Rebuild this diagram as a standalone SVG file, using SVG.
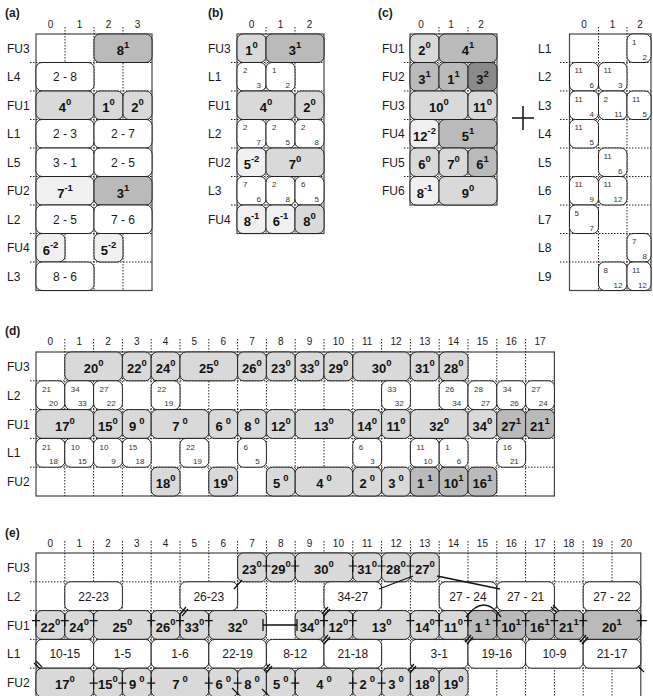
<svg xmlns="http://www.w3.org/2000/svg" width="653" height="696" viewBox="0 0 653 696">
<style>
text{font-family:"Liberation Sans",Arial,sans-serif;fill:#1a1a1a}
.pl{font-size:12px;font-weight:bold}
.rl{font-size:12px}
.cl{font-size:10px;text-anchor:middle;fill:#333}
.n{font-size:13px;font-weight:bold;text-anchor:middle;fill:#111}
.s{font-size:9.5px}
.t{font-size:12px;text-anchor:middle}
.sm{font-size:8px;fill:#333}
.sr{font-size:8px;fill:#333;text-anchor:end}
.c{stroke:#222;stroke-width:1}
.f0{fill:#f0f0f0}.f1{fill:#d9d9d9}.f2{fill:#bababa}.f3{fill:#8a8a8a}.fw{fill:#fff}
.grid{fill:#fff;stroke:#444;stroke-width:1.2}
.dot{stroke:#222;stroke-width:1;stroke-dasharray:1.5 1.5;fill:none}
.ln{stroke:#111;stroke-width:1.3;fill:none}
.tk{stroke:#111;stroke-width:1.2;fill:none}
</style>

<!-- ================= (a) ================= -->
<g id="panel-a">
<text class="pl" x="5" y="17">(a)</text>
<rect class="grid" x="36" y="34" width="116" height="256.5"/>
<g class="cl"><text x="50.5" y="28">0</text><text x="79.5" y="28">1</text><text x="108.5" y="28">2</text><text x="137.5" y="28">3</text></g>
<path class="dot" d="M65,27V290.5M94,27V290.5M123,27V290.5M30,62.5H152M30,91H152M30,119.5H152M30,148H152M30,176.5H152M30,205H152M30,233.5H152M30,262H152"/>
<g class="rl"><text x="7" y="52.7">FU3</text><text x="7" y="81.2">L4</text><text x="7" y="109.7">FU1</text><text x="7" y="138.2">L1</text><text x="7" y="166.7">L5</text><text x="7" y="195.2">FU2</text><text x="7" y="223.7">L2</text><text x="7" y="252.2">FU4</text><text x="7" y="280.7">L3</text></g>
<g id="a_fu3_8"><rect class="c f2" x="94" y="34" width="58" height="28.5" rx="6"/><text class="n" x="123" y="55">8<tspan class="s" dy="-7">1</tspan></text></g>
<g id="a_l4_28"><rect class="c fw" x="36" y="62.5" width="58" height="28.5" rx="6"/><text class="t" x="65" y="81">2 - 8</text></g>
<g id="a_fu1_4"><rect class="c f1" x="36" y="91" width="58" height="28.5" rx="6"/><text class="n" x="65" y="112">4<tspan class="s" dy="-7">0</tspan></text></g>
<g id="a_fu1_1"><rect class="c f1" x="94" y="91" width="29" height="28.5" rx="6"/><text class="n" x="108.5" y="112">1<tspan class="s" dy="-7">0</tspan></text></g>
<g id="a_fu1_2"><rect class="c f1" x="123" y="91" width="29" height="28.5" rx="6"/><text class="n" x="137.5" y="112">2<tspan class="s" dy="-7">0</tspan></text></g>
<g id="a_l1_23"><rect class="c fw" x="36" y="119.5" width="58" height="28.5" rx="6"/><text class="t" x="65" y="138">2 - 3</text></g>
<g id="a_l1_27"><rect class="c fw" x="94" y="119.5" width="58" height="28.5" rx="6"/><text class="t" x="123" y="138">2 - 7</text></g>
<g id="a_l5_31"><rect class="c fw" x="36" y="148" width="58" height="28.5" rx="6"/><text class="t" x="65" y="166.5">3 - 1</text></g>
<g id="a_l5_25"><rect class="c fw" x="94" y="148" width="58" height="28.5" rx="6"/><text class="t" x="123" y="166.5">2 - 5</text></g>
<g id="a_fu2_7"><rect class="c f0" x="36" y="176.5" width="58" height="28.5" rx="6"/><text class="n" x="65" y="197.5">7<tspan class="s" dy="-7">-1</tspan></text></g>
<g id="a_fu2_3"><rect class="c f2" x="94" y="176.5" width="58" height="28.5" rx="6"/><text class="n" x="123" y="197.5">3<tspan class="s" dy="-7">1</tspan></text></g>
<g id="a_l2_25"><rect class="c fw" x="36" y="205" width="58" height="28.5" rx="6"/><text class="t" x="65" y="223.5">2 - 5</text></g>
<g id="a_l2_76"><rect class="c fw" x="94" y="205" width="58" height="28.5" rx="6"/><text class="t" x="123" y="223.5">7 - 6</text></g>
<g id="a_fu4_6"><rect class="c f0" x="36" y="233.5" width="29" height="28.5" rx="6"/><text class="n" x="50.5" y="254.5">6<tspan class="s" dy="-7">-2</tspan></text></g>
<g id="a_fu4_5"><rect class="c f0" x="94" y="233.5" width="29" height="28.5" rx="6"/><text class="n" x="108.5" y="254.5">5<tspan class="s" dy="-7">-2</tspan></text></g>
<g id="a_l3_86"><rect class="c fw" x="36" y="262" width="58" height="28.5" rx="6"/><text class="t" x="65" y="280.5">8 - 6</text></g>
</g>

<!-- ================= (b) ================= -->
<g id="panel-b">
<text class="pl" x="208" y="17">(b)</text>
<rect class="grid" x="237" y="34" width="87" height="199.5"/>
<g class="cl"><text x="251.5" y="28">0</text><text x="280.5" y="28">1</text><text x="309.5" y="28">2</text></g>
<path class="dot" d="M266,27V233.5M295,27V233.5M231,62.5H324M231,91H324M231,119.5H324M231,148H324M231,176.5H324M231,205H324"/>
<g class="rl"><text x="208" y="52.7">FU3</text><text x="208" y="81.2">L1</text><text x="208" y="109.7">FU1</text><text x="208" y="138.2">L2</text><text x="208" y="166.7">FU2</text><text x="208" y="195.2">L3</text><text x="208" y="223.7">FU4</text></g>
<g id="b_fu3_1"><rect class="c f1" x="237" y="34" width="29" height="28.5" rx="6"/><text class="n" x="251.5" y="55">1<tspan class="s" dy="-7">0</tspan></text></g>
<g id="b_fu3_3"><rect class="c f2" x="266" y="34" width="58" height="28.5" rx="6"/><text class="n" x="295" y="55">3<tspan class="s" dy="-7">1</tspan></text></g>
<g id="b_l1_0"><rect class="c fw" x="237" y="62.5" width="29" height="28.5" rx="6"/><text class="sm" x="243" y="73">2</text><text class="sr" x="261" y="88">3</text></g>
<g id="b_l1_1"><rect class="c fw" x="266" y="62.5" width="29" height="28.5" rx="6"/><text class="sm" x="272" y="73">1</text><text class="sr" x="290" y="88">2</text></g>
<g id="b_fu1_4"><rect class="c f1" x="237" y="91" width="58" height="28.5" rx="6"/><text class="n" x="266" y="112">4<tspan class="s" dy="-7">0</tspan></text></g>
<g id="b_fu1_2"><rect class="c f1" x="295" y="91" width="29" height="28.5" rx="6"/><text class="n" x="309.5" y="112">2<tspan class="s" dy="-7">0</tspan></text></g>
<g id="b_l2_0"><rect class="c fw" x="237" y="119.5" width="29" height="28.5" rx="6"/><text class="sm" x="243" y="130">2</text><text class="sr" x="261" y="145">7</text></g>
<g id="b_l2_1"><rect class="c fw" x="266" y="119.5" width="29" height="28.5" rx="6"/><text class="sm" x="272" y="130">2</text><text class="sr" x="290" y="145">5</text></g>
<g id="b_l2_2"><rect class="c fw" x="295" y="119.5" width="29" height="28.5" rx="6"/><text class="sm" x="301" y="130">2</text><text class="sr" x="319" y="145">8</text></g>
<g id="b_fu2_5"><rect class="c f0" x="237" y="148" width="29" height="28.5" rx="6"/><text class="n" x="251.5" y="169">5<tspan class="s" dy="-7">-2</tspan></text></g>
<g id="b_fu2_7"><rect class="c f1" x="266" y="148" width="58" height="28.5" rx="6"/><text class="n" x="295" y="169">7<tspan class="s" dy="-7">0</tspan></text></g>
<g id="b_l3_0"><rect class="c fw" x="237" y="176.5" width="29" height="28.5" rx="6"/><text class="sm" x="243" y="187">7</text><text class="sr" x="261" y="202">6</text></g>
<g id="b_l3_1"><rect class="c fw" x="266" y="176.5" width="29" height="28.5" rx="6"/><text class="sm" x="272" y="187">2</text><text class="sr" x="290" y="202">8</text></g>
<g id="b_l3_2"><rect class="c fw" x="295" y="176.5" width="29" height="28.5" rx="6"/><text class="sm" x="301" y="187">6</text><text class="sr" x="319" y="202">5</text></g>
<g id="b_fu4_8a"><rect class="c f0" x="237" y="205" width="29" height="28.5" rx="6"/><text class="n" x="251.5" y="226">8<tspan class="s" dy="-7">-1</tspan></text></g>
<g id="b_fu4_6"><rect class="c f0" x="266" y="205" width="29" height="28.5" rx="6"/><text class="n" x="280.5" y="226">6<tspan class="s" dy="-7">-1</tspan></text></g>
<g id="b_fu4_8b"><rect class="c f1" x="295" y="205" width="29" height="28.5" rx="6"/><text class="n" x="309.5" y="226">8<tspan class="s" dy="-7">0</tspan></text></g>
</g>

<!-- ================= (c) ================= -->
<g id="panel-c">
<text class="pl" x="378" y="17">(c)</text>
<rect class="grid" x="410" y="34" width="87" height="171"/>
<g class="cl"><text x="421" y="28">0</text><text x="451" y="28">1</text><text x="481" y="28">2</text></g>
<path class="dot" d="M439,27V205M468,27V205M404,62.5H497M404,91H497M404,119.5H497M404,148H497M404,176.5H497"/>
<g class="rl"><text x="382" y="52.7">FU1</text><text x="382" y="81.2">FU2</text><text x="382" y="109.7">FU3</text><text x="382" y="138.2">FU4</text><text x="382" y="166.7">FU5</text><text x="382" y="195.2">FU6</text></g>
<g id="c_fu1_2"><rect class="c f1" x="410" y="34" width="29" height="28.5" rx="6"/><text class="n" x="424.5" y="55">2<tspan class="s" dy="-7">0</tspan></text></g>
<g id="c_fu1_4"><rect class="c f2" x="439" y="34" width="58" height="28.5" rx="6"/><text class="n" x="468" y="55">4<tspan class="s" dy="-7">1</tspan></text></g>
<g id="c_fu2_3a"><rect class="c f2" x="410" y="62.5" width="29" height="28.5" rx="6"/><text class="n" x="424.5" y="83.5">3<tspan class="s" dy="-7">1</tspan></text></g>
<g id="c_fu2_1"><rect class="c f2" x="439" y="62.5" width="29" height="28.5" rx="6"/><text class="n" x="453.5" y="83.5">1<tspan class="s" dy="-7">1</tspan></text></g>
<g id="c_fu2_3b"><rect class="c f3" x="468" y="62.5" width="29" height="28.5" rx="6"/><text class="n" x="482.5" y="83.5">3<tspan class="s" dy="-7">2</tspan></text></g>
<g id="c_fu3_10"><rect class="c f1" x="410" y="91" width="58" height="28.5" rx="6"/><text class="n" x="439" y="112">10<tspan class="s" dy="-7">0</tspan></text></g>
<g id="c_fu3_11"><rect class="c f1" x="468" y="91" width="29" height="28.5" rx="6"/><text class="n" x="482.5" y="112">11<tspan class="s" dy="-7">0</tspan></text></g>
<g id="c_fu4_12"><rect class="c f0" x="410" y="119.5" width="29" height="28.5" rx="6"/><text class="n" x="424.5" y="140.5">12<tspan class="s" dy="-7">-2</tspan></text></g>
<g id="c_fu4_5"><rect class="c f2" x="439" y="119.5" width="58" height="28.5" rx="6"/><text class="n" x="468" y="140.5">5<tspan class="s" dy="-7">1</tspan></text></g>
<g id="c_fu5_6a"><rect class="c f1" x="410" y="148" width="29" height="28.5" rx="6"/><text class="n" x="424.5" y="169">6<tspan class="s" dy="-7">0</tspan></text></g>
<g id="c_fu5_7"><rect class="c f1" x="439" y="148" width="29" height="28.5" rx="6"/><text class="n" x="453.5" y="169">7<tspan class="s" dy="-7">0</tspan></text></g>
<g id="c_fu5_6b"><rect class="c f2" x="468" y="148" width="29" height="28.5" rx="6"/><text class="n" x="482.5" y="169">6<tspan class="s" dy="-7">1</tspan></text></g>
<g id="c_fu6_8"><rect class="c f0" x="410" y="176.5" width="29" height="28.5" rx="6"/><text class="n" x="424.5" y="197.5">8<tspan class="s" dy="-7">-1</tspan></text></g>
<g id="c_fu6_9"><rect class="c f1" x="439" y="176.5" width="58" height="28.5" rx="6"/><text class="n" x="468" y="197.5">9<tspan class="s" dy="-7">0</tspan></text></g>
<path id="plus" d="M512,118H534M523,106V130" stroke="#111" stroke-width="1.5" fill="none"/>
</g>

<!-- ============ (c) right table ============ -->
<g id="panel-c2">
<rect class="grid" x="569.5" y="34" width="81.5" height="256.5"/>
<g class="cl"><text x="584" y="28">0</text><text x="612.5" y="28">1</text><text x="640" y="28">2</text></g>
<path class="dot" d="M598.5,27V290.5M627,27V290.5M560,62.5H651M560,91H651M560,119.5H651M560,148H651M560,176.5H651M560,205H651M560,233.5H651M560,262H651"/>
<g class="rl"><text x="538" y="52.7">L1</text><text x="538" y="81.2">L2</text><text x="538" y="109.7">L3</text><text x="538" y="138.2">L4</text><text x="538" y="166.7">L5</text><text x="538" y="195.2">L6</text><text x="538" y="223.7">L7</text><text x="538" y="252.2">L8</text><text x="538" y="280.7">L9</text></g>
<g id="r_l1_2"><rect class="c fw" x="627" y="34" width="24" height="28.5" rx="6"/><text class="sm" x="632" y="44.5">1</text><text class="sr" x="647" y="59.5">2</text></g>
<g id="r_l2_0"><rect class="c fw" x="569.5" y="62.5" width="29" height="28.5" rx="6"/><text class="sm" x="574.5" y="73">11</text><text class="sr" x="594" y="88">6</text></g>
<g id="r_l2_1"><rect class="c fw" x="598.5" y="62.5" width="28.5" height="28.5" rx="6"/><text class="sm" x="603.5" y="73">11</text><text class="sr" x="622.5" y="88">3</text></g>
<g id="r_l3_0"><rect class="c fw" x="569.5" y="91" width="29" height="28.5" rx="6"/><text class="sm" x="574.5" y="101.5">11</text><text class="sr" x="594" y="116.5">4</text></g>
<g id="r_l3_1"><rect class="c fw" x="598.5" y="91" width="28.5" height="28.5" rx="6"/><text class="sm" x="603.5" y="101.5">2</text><text class="sr" x="622.5" y="116.5">11</text></g>
<g id="r_l3_2"><rect class="c fw" x="627" y="91" width="24" height="28.5" rx="6"/><text class="sm" x="632" y="101.5">11</text><text class="sr" x="647" y="116.5">5</text></g>
<g id="r_l4_0"><rect class="c fw" x="569.5" y="119.5" width="29" height="28.5" rx="6"/><text class="sm" x="574.5" y="130">11</text><text class="sr" x="594" y="145">5</text></g>
<g id="r_l5_1"><rect class="c fw" x="598.5" y="148" width="28.5" height="28.5" rx="6"/><text class="sm" x="603.5" y="158.5">11</text><text class="sr" x="622.5" y="173.5">6</text></g>
<g id="r_l6_0"><rect class="c fw" x="569.5" y="176.5" width="29" height="28.5" rx="6"/><text class="sm" x="574.5" y="187">11</text><text class="sr" x="594" y="202">9</text></g>
<g id="r_l6_1"><rect class="c fw" x="598.5" y="176.5" width="28.5" height="28.5" rx="6"/><text class="sm" x="603.5" y="187">11</text><text class="sr" x="622.5" y="202">12</text></g>
<g id="r_l7_0"><rect class="c fw" x="569.5" y="205" width="29" height="28.5" rx="6"/><text class="sm" x="574.5" y="215.5">5</text><text class="sr" x="594" y="230.5">7</text></g>
<g id="r_l8_2"><rect class="c fw" x="627" y="233.5" width="24" height="28.5" rx="6"/><text class="sm" x="632" y="244">7</text><text class="sr" x="647" y="259">8</text></g>
<g id="r_l9_1"><rect class="c fw" x="598.5" y="262" width="28.5" height="28.5" rx="6"/><text class="sm" x="603.5" y="272.5">8</text><text class="sr" x="622.5" y="287.5">12</text></g>
<g id="r_l9_2"><rect class="c fw" x="627" y="262" width="24" height="28.5" rx="6"/><text class="sm" x="632" y="272.5">11</text><text class="sr" x="647" y="287.5">12</text></g>
</g>

<!-- ================= (d) ================= -->
<g id="panel-d">
<text class="pl" x="5" y="335">(d)</text>
<rect class="grid" x="36" y="352" width="518.4" height="144"/>
<g class="cl"><text x="50.4" y="345">0</text><text x="79.2" y="345">1</text><text x="108" y="345">2</text><text x="136.8" y="345">3</text><text x="165.6" y="345">4</text><text x="194.4" y="345">5</text><text x="223.2" y="345">6</text><text x="252" y="345">7</text><text x="280.8" y="345">8</text><text x="309.6" y="345">9</text><text x="338.4" y="345">10</text><text x="367.2" y="345">11</text><text x="396" y="345">12</text><text x="424.8" y="345">13</text><text x="453.6" y="345">14</text><text x="482.4" y="345">15</text><text x="511.2" y="345">16</text><text x="540" y="345">17</text></g>
<path class="dot" d="M64.8,339V496M93.6,339V496M122.4,339V496M151.2,339V496M180,339V496M208.8,339V496M237.6,339V496M266.4,339V496M295.2,339V496M324,339V496M352.8,339V496M381.6,339V496M410.4,339V496M439.2,339V496M468,339V496M496.8,339V496M525.6,339V496M30,380.8H554.4M30,409.6H554.4M30,438.4H554.4M30,467.2H554.4"/>
<g class="rl"><text x="7" y="370.9">FU3</text><text x="7" y="399.7">L2</text><text x="7" y="428.5">FU1</text><text x="7" y="457.3">L1</text><text x="7" y="486.1">FU2</text></g>
<!-- FU3 -->
<g id="d_fu3_20"><rect class="c f1" x="64.8" y="352" width="57.6" height="28.8" rx="6"/><text class="n" x="93.6" y="373">20<tspan class="s" dy="-7">0</tspan></text></g>
<g id="d_fu3_22"><rect class="c f1" x="122.4" y="352" width="28.8" height="28.8" rx="6"/><text class="n" x="136.8" y="373">22<tspan class="s" dy="-7">0</tspan></text></g>
<g id="d_fu3_24"><rect class="c f1" x="151.2" y="352" width="28.8" height="28.8" rx="6"/><text class="n" x="165.6" y="373">24<tspan class="s" dy="-7">0</tspan></text></g>
<g id="d_fu3_25"><rect class="c f1" x="180" y="352" width="57.6" height="28.8" rx="6"/><text class="n" x="208.8" y="373">25<tspan class="s" dy="-7">0</tspan></text></g>
<g id="d_fu3_26"><rect class="c f1" x="237.6" y="352" width="28.8" height="28.8" rx="6"/><text class="n" x="252" y="373">26<tspan class="s" dy="-7">0</tspan></text></g>
<g id="d_fu3_23"><rect class="c f1" x="266.4" y="352" width="28.8" height="28.8" rx="6"/><text class="n" x="280.8" y="373">23<tspan class="s" dy="-7">0</tspan></text></g>
<g id="d_fu3_33"><rect class="c f1" x="295.2" y="352" width="28.8" height="28.8" rx="6"/><text class="n" x="309.6" y="373">33<tspan class="s" dy="-7">0</tspan></text></g>
<g id="d_fu3_29"><rect class="c f1" x="324" y="352" width="28.8" height="28.8" rx="6"/><text class="n" x="338.4" y="373">29<tspan class="s" dy="-7">0</tspan></text></g>
<g id="d_fu3_30"><rect class="c f1" x="352.8" y="352" width="57.6" height="28.8" rx="6"/><text class="n" x="381.6" y="373">30<tspan class="s" dy="-7">0</tspan></text></g>
<g id="d_fu3_31"><rect class="c f1" x="410.4" y="352" width="28.8" height="28.8" rx="6"/><text class="n" x="424.8" y="373">31<tspan class="s" dy="-7">0</tspan></text></g>
<g id="d_fu3_28"><rect class="c f1" x="439.2" y="352" width="28.8" height="28.8" rx="6"/><text class="n" x="453.6" y="373">28<tspan class="s" dy="-7">0</tspan></text></g>
<!-- L2 -->
<g id="d_l2_0"><rect class="c fw" x="36" y="380.8" width="28.8" height="28.8" rx="6"/><text class="sm" x="42" y="392.3">21</text><text class="sr" x="58" y="406.3">20</text></g>
<g id="d_l2_1"><rect class="c fw" x="64.8" y="380.8" width="28.8" height="28.8" rx="6"/><text class="sm" x="70.8" y="392.3">34</text><text class="sr" x="86.8" y="406.3">33</text></g>
<g id="d_l2_2"><rect class="c fw" x="93.6" y="380.8" width="28.8" height="28.8" rx="6"/><text class="sm" x="99.6" y="392.3">27</text><text class="sr" x="115.6" y="406.3">22</text></g>
<g id="d_l2_4"><rect class="c fw" x="151.2" y="380.8" width="28.8" height="28.8" rx="6"/><text class="sm" x="157.2" y="392.3">22</text><text class="sr" x="173.2" y="406.3">19</text></g>
<g id="d_l2_12"><rect class="c fw" x="381.6" y="380.8" width="28.8" height="28.8" rx="6"/><text class="sm" x="387.6" y="392.3">33</text><text class="sr" x="403.6" y="406.3">32</text></g>
<g id="d_l2_14"><rect class="c fw" x="439.2" y="380.8" width="28.8" height="28.8" rx="6"/><text class="sm" x="445.2" y="392.3">26</text><text class="sr" x="461.2" y="406.3">34</text></g>
<g id="d_l2_15"><rect class="c fw" x="468" y="380.8" width="28.8" height="28.8" rx="6"/><text class="sm" x="474" y="392.3">28</text><text class="sr" x="490" y="406.3">27</text></g>
<g id="d_l2_16"><rect class="c fw" x="496.8" y="380.8" width="28.8" height="28.8" rx="6"/><text class="sm" x="502.8" y="392.3">34</text><text class="sr" x="518.8" y="406.3">26</text></g>
<g id="d_l2_17"><rect class="c fw" x="525.6" y="380.8" width="28.8" height="28.8" rx="6"/><text class="sm" x="531.6" y="392.3">27</text><text class="sr" x="547.6" y="406.3">24</text></g>
<!-- FU1 -->
<g id="d_fu1_17"><rect class="c f1" x="36" y="409.6" width="57.6" height="28.8" rx="6"/><text class="n" x="64.8" y="430.6">17<tspan class="s" dy="-7">0</tspan></text></g>
<g id="d_fu1_15"><rect class="c f1" x="93.6" y="409.6" width="28.8" height="28.8" rx="6"/><text class="n" x="108" y="430.6">15<tspan class="s" dy="-7">0</tspan></text></g>
<g id="d_fu1_9"><rect class="c f1" x="122.4" y="409.6" width="28.8" height="28.8" rx="6"/><text class="n" x="136.8" y="430.6">9<tspan class="s" dx="3" dy="-7">0</tspan></text></g>
<g id="d_fu1_7"><rect class="c f1" x="151.2" y="409.6" width="57.6" height="28.8" rx="6"/><text class="n" x="180" y="430.6">7<tspan class="s" dx="3" dy="-7">0</tspan></text></g>
<g id="d_fu1_6"><rect class="c f1" x="208.8" y="409.6" width="28.8" height="28.8" rx="6"/><text class="n" x="223.2" y="430.6">6<tspan class="s" dx="3" dy="-7">0</tspan></text></g>
<g id="d_fu1_8"><rect class="c f1" x="237.6" y="409.6" width="28.8" height="28.8" rx="6"/><text class="n" x="252" y="430.6">8<tspan class="s" dx="3" dy="-7">0</tspan></text></g>
<g id="d_fu1_12"><rect class="c f1" x="266.4" y="409.6" width="28.8" height="28.8" rx="6"/><text class="n" x="280.8" y="430.6">12<tspan class="s" dy="-7">0</tspan></text></g>
<g id="d_fu1_13"><rect class="c f1" x="295.2" y="409.6" width="57.6" height="28.8" rx="6"/><text class="n" x="324" y="430.6">13<tspan class="s" dy="-7">0</tspan></text></g>
<g id="d_fu1_14"><rect class="c f1" x="352.8" y="409.6" width="28.8" height="28.8" rx="6"/><text class="n" x="367.2" y="430.6">14<tspan class="s" dy="-7">0</tspan></text></g>
<g id="d_fu1_11"><rect class="c f1" x="381.6" y="409.6" width="28.8" height="28.8" rx="6"/><text class="n" x="396" y="430.6">11<tspan class="s" dy="-7">0</tspan></text></g>
<g id="d_fu1_32"><rect class="c f1" x="410.4" y="409.6" width="57.6" height="28.8" rx="6"/><text class="n" x="439.2" y="430.6">32<tspan class="s" dy="-7">0</tspan></text></g>
<g id="d_fu1_34"><rect class="c f1" x="468" y="409.6" width="28.8" height="28.8" rx="6"/><text class="n" x="482.4" y="430.6">34<tspan class="s" dy="-7">0</tspan></text></g>
<g id="d_fu1_27"><rect class="c f2" x="496.8" y="409.6" width="28.8" height="28.8" rx="6"/><text class="n" x="511.2" y="430.6">27<tspan class="s" dy="-7">1</tspan></text></g>
<g id="d_fu1_21"><rect class="c f2" x="525.6" y="409.6" width="28.8" height="28.8" rx="6"/><text class="n" x="540" y="430.6">21<tspan class="s" dy="-7">1</tspan></text></g>
<!-- L1 -->
<g id="d_l1_0"><rect class="c fw" x="36" y="438.4" width="28.8" height="28.8" rx="6"/><text class="sm" x="42" y="449.9">21</text><text class="sr" x="58" y="463.9">18</text></g>
<g id="d_l1_1"><rect class="c fw" x="64.8" y="438.4" width="28.8" height="28.8" rx="6"/><text class="sm" x="70.8" y="449.9">10</text><text class="sr" x="86.8" y="463.9">15</text></g>
<g id="d_l1_2"><rect class="c fw" x="93.6" y="438.4" width="28.8" height="28.8" rx="6"/><text class="sm" x="99.6" y="449.9">10</text><text class="sr" x="115.6" y="463.9">9</text></g>
<g id="d_l1_3"><rect class="c fw" x="122.4" y="438.4" width="28.8" height="28.8" rx="6"/><text class="sm" x="128.4" y="449.9">15</text><text class="sr" x="144.4" y="463.9">18</text></g>
<g id="d_l1_5"><rect class="c fw" x="180" y="438.4" width="28.8" height="28.8" rx="6"/><text class="sm" x="186" y="449.9">22</text><text class="sr" x="202" y="463.9">19</text></g>
<g id="d_l1_7"><rect class="c fw" x="237.6" y="438.4" width="28.8" height="28.8" rx="6"/><text class="sm" x="243.6" y="449.9">6</text><text class="sr" x="259.6" y="463.9">5</text></g>
<g id="d_l1_11"><rect class="c fw" x="352.8" y="438.4" width="28.8" height="28.8" rx="6"/><text class="sm" x="358.8" y="449.9">6</text><text class="sr" x="374.8" y="463.9">3</text></g>
<g id="d_l1_13"><rect class="c fw" x="410.4" y="438.4" width="28.8" height="28.8" rx="6"/><text class="sm" x="416.4" y="449.9">11</text><text class="sr" x="432.4" y="463.9">10</text></g>
<g id="d_l1_14"><rect class="c fw" x="439.2" y="438.4" width="28.8" height="28.8" rx="6"/><text class="sm" x="445.2" y="449.9">1</text><text class="sr" x="461.2" y="463.9">6</text></g>
<g id="d_l1_16"><rect class="c fw" x="496.8" y="438.4" width="28.8" height="28.8" rx="6"/><text class="sm" x="502.8" y="449.9">16</text><text class="sr" x="518.8" y="463.9">21</text></g>
<!-- FU2 -->
<g id="d_fu2_18"><rect class="c f1" x="151.2" y="467.2" width="28.8" height="28.8" rx="6"/><text class="n" x="165.6" y="488.2">18<tspan class="s" dy="-7">0</tspan></text></g>
<g id="d_fu2_19"><rect class="c f1" x="208.8" y="467.2" width="28.8" height="28.8" rx="6"/><text class="n" x="223.2" y="488.2">19<tspan class="s" dy="-7">0</tspan></text></g>
<g id="d_fu2_5"><rect class="c f1" x="266.4" y="467.2" width="28.8" height="28.8" rx="6"/><text class="n" x="280.8" y="488.2">5<tspan class="s" dx="3" dy="-7">0</tspan></text></g>
<g id="d_fu2_4"><rect class="c f1" x="295.2" y="467.2" width="57.6" height="28.8" rx="6"/><text class="n" x="324" y="488.2">4<tspan class="s" dx="3" dy="-7">0</tspan></text></g>
<g id="d_fu2_2"><rect class="c f1" x="352.8" y="467.2" width="28.8" height="28.8" rx="6"/><text class="n" x="367.2" y="488.2">2<tspan class="s" dx="3" dy="-7">0</tspan></text></g>
<g id="d_fu2_3"><rect class="c f1" x="381.6" y="467.2" width="28.8" height="28.8" rx="6"/><text class="n" x="396" y="488.2">3<tspan class="s" dx="3" dy="-7">0</tspan></text></g>
<g id="d_fu2_1"><rect class="c f2" x="410.4" y="467.2" width="28.8" height="28.8" rx="6"/><text class="n" x="424.8" y="488.2">1<tspan class="s" dx="3" dy="-7">1</tspan></text></g>
<g id="d_fu2_10"><rect class="c f2" x="439.2" y="467.2" width="28.8" height="28.8" rx="6"/><text class="n" x="453.6" y="488.2">10<tspan class="s" dy="-7">1</tspan></text></g>
<g id="d_fu2_16"><rect class="c f2" x="468" y="467.2" width="28.8" height="28.8" rx="6"/><text class="n" x="482.4" y="488.2">16<tspan class="s" dy="-7">1</tspan></text></g>
</g>

<!-- ================= (e) ================= -->
<g id="panel-e">
<text class="pl" x="5" y="537">(e)</text>
<rect class="grid" x="36" y="553" width="604.8" height="150"/>
<g class="cl"><text x="50.4" y="547">0</text><text x="79.2" y="547">1</text><text x="108" y="547">2</text><text x="136.8" y="547">3</text><text x="165.6" y="547">4</text><text x="194.4" y="547">5</text><text x="223.2" y="547">6</text><text x="252" y="547">7</text><text x="280.8" y="547">8</text><text x="309.6" y="547">9</text><text x="338.4" y="547">10</text><text x="367.2" y="547">11</text><text x="396" y="547">12</text><text x="424.8" y="547">13</text><text x="453.6" y="547">14</text><text x="482.4" y="547">15</text><text x="511.2" y="547">16</text><text x="540" y="547">17</text><text x="568.8" y="547">18</text><text x="597.6" y="547">19</text><text x="626.4" y="547">20</text></g>
<path class="dot" d="M64.8,541V697M93.6,541V697M122.4,541V697M151.2,541V697M180,541V697M208.8,541V697M237.6,541V697M266.4,541V697M295.2,541V697M324,541V697M352.8,541V697M381.6,541V697M410.4,541V697M439.2,541V697M468,541V697M496.8,541V697M525.6,541V697M554.4,541V697M583.2,541V697M612,541V697M30,581.8H640.8M30,610.6H640.8M30,639.4H640.8M30,668.2H640.8"/>
<g class="rl"><text x="7" y="571.9">FU3</text><text x="7" y="600.7">L2</text><text x="7" y="629.5">FU1</text><text x="7" y="658.3">L1</text><text x="7" y="687.1">FU2</text></g>
<!-- FU3 -->
<g id="e_fu3_23"><rect class="c f1" x="237.6" y="553" width="28.8" height="28.8" rx="6"/><text class="n" x="252" y="574">23<tspan class="s" dy="-7">0</tspan></text></g>
<g id="e_fu3_29"><rect class="c f1" x="266.4" y="553" width="28.8" height="28.8" rx="6"/><text class="n" x="280.8" y="574">29<tspan class="s" dy="-7">0</tspan></text></g>
<g id="e_fu3_30"><rect class="c f1" x="295.2" y="553" width="57.6" height="28.8" rx="6"/><text class="n" x="324" y="574">30<tspan class="s" dy="-7">0</tspan></text></g>
<g id="e_fu3_31"><rect class="c f1" x="352.8" y="553" width="28.8" height="28.8" rx="6"/><text class="n" x="367.2" y="574">31<tspan class="s" dy="-7">0</tspan></text></g>
<g id="e_fu3_28"><rect class="c f1" x="381.6" y="553" width="28.8" height="28.8" rx="6"/><text class="n" x="396" y="574">28<tspan class="s" dy="-7">0</tspan></text></g>
<g id="e_fu3_27"><rect class="c f1" x="410.4" y="553" width="28.8" height="28.8" rx="6"/><text class="n" x="424.8" y="574">27<tspan class="s" dy="-7">0</tspan></text></g>
<!-- L2 -->
<g id="e_l2_2223"><rect class="c fw" x="64.8" y="581.8" width="57.6" height="28.8" rx="6"/><text class="t" x="93.6" y="600.5">22-23</text></g>
<g id="e_l2_2623"><rect class="c fw" x="180" y="581.8" width="57.6" height="28.8" rx="6"/><text class="t" x="208.8" y="600.5">26-23</text></g>
<g id="e_l2_3427"><rect class="c fw" x="324" y="581.8" width="57.6" height="28.8" rx="6"/><text class="t" x="352.8" y="600.5">34-27</text></g>
<g id="e_l2_2724"><rect class="c fw" x="439.2" y="581.8" width="57.6" height="28.8" rx="6"/><text class="t" x="468" y="600.5">27 - 24</text></g>
<g id="e_l2_2721"><rect class="c fw" x="496.8" y="581.8" width="57.6" height="28.8" rx="6"/><text class="t" x="525.6" y="600.5">27 - 21</text></g>
<g id="e_l2_2722"><rect class="c fw" x="583.2" y="581.8" width="57.6" height="28.8" rx="6"/><text class="t" x="612" y="600.5">27 - 22</text></g>
<!-- FU1 -->
<g id="e_fu1_22"><rect class="c f1" x="36" y="610.6" width="28.8" height="28.8" rx="6"/><text class="n" x="50.4" y="631.6">22<tspan class="s" dy="-7">0</tspan></text></g>
<g id="e_fu1_24"><rect class="c f1" x="64.8" y="610.6" width="28.8" height="28.8" rx="6"/><text class="n" x="79.2" y="631.6">24<tspan class="s" dy="-7">0</tspan></text></g>
<g id="e_fu1_25"><rect class="c f1" x="93.6" y="610.6" width="57.6" height="28.8" rx="6"/><text class="n" x="122.4" y="631.6">25<tspan class="s" dy="-7">0</tspan></text></g>
<g id="e_fu1_26"><rect class="c f1" x="151.2" y="610.6" width="28.8" height="28.8" rx="6"/><text class="n" x="165.6" y="631.6">26<tspan class="s" dy="-7">0</tspan></text></g>
<g id="e_fu1_33"><rect class="c f1" x="180" y="610.6" width="28.8" height="28.8" rx="6"/><text class="n" x="194.4" y="631.6">33<tspan class="s" dy="-7">0</tspan></text></g>
<g id="e_fu1_32"><rect class="c f1" x="208.8" y="610.6" width="57.6" height="28.8" rx="6"/><text class="n" x="237.6" y="631.6">32<tspan class="s" dy="-7">0</tspan></text></g>
<g id="e_fu1_34"><rect class="c f1" x="295.2" y="610.6" width="28.8" height="28.8" rx="6"/><text class="n" x="309.6" y="631.6">34<tspan class="s" dy="-7">0</tspan></text></g>
<g id="e_fu1_12"><rect class="c f1" x="324" y="610.6" width="28.8" height="28.8" rx="6"/><text class="n" x="338.4" y="631.6">12<tspan class="s" dy="-7">0</tspan></text></g>
<g id="e_fu1_13"><rect class="c f1" x="352.8" y="610.6" width="57.6" height="28.8" rx="6"/><text class="n" x="381.6" y="631.6">13<tspan class="s" dy="-7">0</tspan></text></g>
<g id="e_fu1_14"><rect class="c f1" x="410.4" y="610.6" width="28.8" height="28.8" rx="6"/><text class="n" x="424.8" y="631.6">14<tspan class="s" dy="-7">0</tspan></text></g>
<g id="e_fu1_11"><rect class="c f1" x="439.2" y="610.6" width="28.8" height="28.8" rx="6"/><text class="n" x="453.6" y="631.6">11<tspan class="s" dy="-7">0</tspan></text></g>
<g id="e_fu1_1"><rect class="c f2" x="468" y="610.6" width="28.8" height="28.8" rx="6"/><text class="n" x="482.4" y="631.6">1<tspan class="s" dx="3" dy="-7">1</tspan></text></g>
<g id="e_fu1_10"><rect class="c f2" x="496.8" y="610.6" width="28.8" height="28.8" rx="6"/><text class="n" x="511.2" y="631.6">10<tspan class="s" dy="-7">1</tspan></text></g>
<g id="e_fu1_16"><rect class="c f2" x="525.6" y="610.6" width="28.8" height="28.8" rx="6"/><text class="n" x="540" y="631.6">16<tspan class="s" dy="-7">1</tspan></text></g>
<g id="e_fu1_21"><rect class="c f2" x="554.4" y="610.6" width="28.8" height="28.8" rx="6"/><text class="n" x="568.8" y="631.6">21<tspan class="s" dy="-7">1</tspan></text></g>
<g id="e_fu1_20"><rect class="c f2" x="583.2" y="610.6" width="57.6" height="28.8" rx="6"/><text class="n" x="612" y="631.6">20<tspan class="s" dy="-7">1</tspan></text></g>
<!-- L1 -->
<g id="e_l1_1015"><rect class="c fw" x="36" y="639.4" width="57.6" height="28.8" rx="6"/><text class="t" x="64.8" y="658">10-15</text></g>
<g id="e_l1_15"><rect class="c fw" x="93.6" y="639.4" width="57.6" height="28.8" rx="6"/><text class="t" x="122.4" y="658">1-5</text></g>
<g id="e_l1_16"><rect class="c fw" x="151.2" y="639.4" width="57.6" height="28.8" rx="6"/><text class="t" x="180" y="658">1-6</text></g>
<g id="e_l1_2219"><rect class="c fw" x="208.8" y="639.4" width="57.6" height="28.8" rx="6"/><text class="t" x="237.6" y="658">22-19</text></g>
<g id="e_l1_812"><rect class="c fw" x="266.4" y="639.4" width="57.6" height="28.8" rx="6"/><text class="t" x="295.2" y="658">8-12</text></g>
<g id="e_l1_2118"><rect class="c fw" x="324" y="639.4" width="57.6" height="28.8" rx="6"/><text class="t" x="352.8" y="658">21-18</text></g>
<g id="e_l1_31"><rect class="c fw" x="410.4" y="639.4" width="57.6" height="28.8" rx="6"/><text class="t" x="439.2" y="658">3-1</text></g>
<g id="e_l1_1916"><rect class="c fw" x="468" y="639.4" width="57.6" height="28.8" rx="6"/><text class="t" x="496.8" y="658">19-16</text></g>
<g id="e_l1_109"><rect class="c fw" x="525.6" y="639.4" width="57.6" height="28.8" rx="6"/><text class="t" x="554.4" y="658">10-9</text></g>
<g id="e_l1_2117"><rect class="c fw" x="583.2" y="639.4" width="57.6" height="28.8" rx="6"/><text class="t" x="612" y="658">21-17</text></g>
<!-- FU2 -->
<g id="e_fu2_17"><rect class="c f1" x="36" y="668.2" width="57.6" height="28.8" rx="6"/><text class="n" x="64.8" y="689.2">17<tspan class="s" dy="-7">0</tspan></text></g>
<g id="e_fu2_15"><rect class="c f1" x="93.6" y="668.2" width="28.8" height="28.8" rx="6"/><text class="n" x="108" y="689.2">15<tspan class="s" dy="-7">0</tspan></text></g>
<g id="e_fu2_9"><rect class="c f1" x="122.4" y="668.2" width="28.8" height="28.8" rx="6"/><text class="n" x="136.8" y="689.2">9<tspan class="s" dx="3" dy="-7">0</tspan></text></g>
<g id="e_fu2_7"><rect class="c f1" x="151.2" y="668.2" width="57.6" height="28.8" rx="6"/><text class="n" x="180" y="689.2">7<tspan class="s" dx="3" dy="-7">0</tspan></text></g>
<g id="e_fu2_6"><rect class="c f1" x="208.8" y="668.2" width="28.8" height="28.8" rx="6"/><text class="n" x="223.2" y="689.2">6<tspan class="s" dx="3" dy="-7">0</tspan></text></g>
<g id="e_fu2_8"><rect class="c f1" x="237.6" y="668.2" width="28.8" height="28.8" rx="6"/><text class="n" x="252" y="689.2">8<tspan class="s" dx="3" dy="-7">0</tspan></text></g>
<g id="e_fu2_5"><rect class="c f1" x="266.4" y="668.2" width="28.8" height="28.8" rx="6"/><text class="n" x="280.8" y="689.2">5<tspan class="s" dx="3" dy="-7">0</tspan></text></g>
<g id="e_fu2_4"><rect class="c f1" x="295.2" y="668.2" width="57.6" height="28.8" rx="6"/><text class="n" x="324" y="689.2">4<tspan class="s" dx="3" dy="-7">0</tspan></text></g>
<g id="e_fu2_2"><rect class="c f1" x="352.8" y="668.2" width="28.8" height="28.8" rx="6"/><text class="n" x="367.2" y="689.2">2<tspan class="s" dx="3" dy="-7">0</tspan></text></g>
<g id="e_fu2_3"><rect class="c f1" x="381.6" y="668.2" width="28.8" height="28.8" rx="6"/><text class="n" x="396" y="689.2">3<tspan class="s" dx="3" dy="-7">0</tspan></text></g>
<g id="e_fu2_18"><rect class="c f1" x="410.4" y="668.2" width="28.8" height="28.8" rx="6"/><text class="n" x="424.8" y="689.2">18<tspan class="s" dy="-7">0</tspan></text></g>
<g id="e_fu2_19"><rect class="c f1" x="439.2" y="668.2" width="28.8" height="28.8" rx="6"/><text class="n" x="453.6" y="689.2">19<tspan class="s" dy="-7">0</tspan></text></g>
</g>

<!-- ============ connectors (e) ============ -->
<g id="connectors">
<path class="tk" d="M266.4,560v12M262.4,566h8M295.2,560v12M291.2,566h8M352.8,560v12M348.8,566h8M381.6,560v12M377.6,566h8M410.4,560v12M406.4,566h8"/>
<path class="tk" d="M36,614.6v12M32,620.6h8M64.8,614.6v12M60.8,620.6h8M93.6,614.6v12M89.6,620.6h8M151.2,614.6v12M147.2,620.6h8M180,614.6v12M176,620.6h8M208.8,614.6v12M204.8,620.6h8M324,614.6v12M320,620.6h8M352.8,614.6v12M348.8,620.6h8M410.4,614.6v12M406.4,620.6h8M439.2,614.6v12M435.2,620.6h8M468,614.6v12M464,620.6h8M496.8,614.6v12M492.8,620.6h8M525.6,614.6v12M521.6,620.6h8M554.4,614.6v12M550.4,620.6h8M583.2,614.6v12M579.2,620.6h8M640.8,614.6v12M636.8,620.6h10"/>
<path class="tk" d="M93.6,677.2v12M89.6,683.2h8M122.4,677.2v12M118.4,683.2h8M151.2,677.2v12M147.2,683.2h8M208.8,677.2v12M204.8,683.2h8M237.6,677.2v12M233.6,683.2h8M295.2,677.2v12M291.2,683.2h8M352.8,677.2v12M348.8,683.2h8M381.6,677.2v12M377.6,683.2h8"/>
<path class="ln" d="M263,625H297M263,619v12M297,619v12"/>
<path class="ln" d="M379,589L413,576M437,576L500,589"/>
<path class="ln" d="M466,617Q484,593 501,617"/>
<path class="tk" d="M180,614l6,-7M182,616l6,-7M322,614l6,-7M324,616l6,-7M322,642l6,-7M324,644l6,-7M465,642l6,-7M467,644l6,-7M580,642l6,-7M582,644l6,-7M264,671l6,-7M266,673l6,-7M408,671l6,-7M410,673l6,-7"/>
<path class="tk" d="M34,663l6,6M36,661l6,6M551,607l6,6M553,605l6,6M638,666l6,6"/>
<path class="tk" d="M234,589l8,-9M232,688l7,7M262,689l6,6"/>
</g>
</svg>
